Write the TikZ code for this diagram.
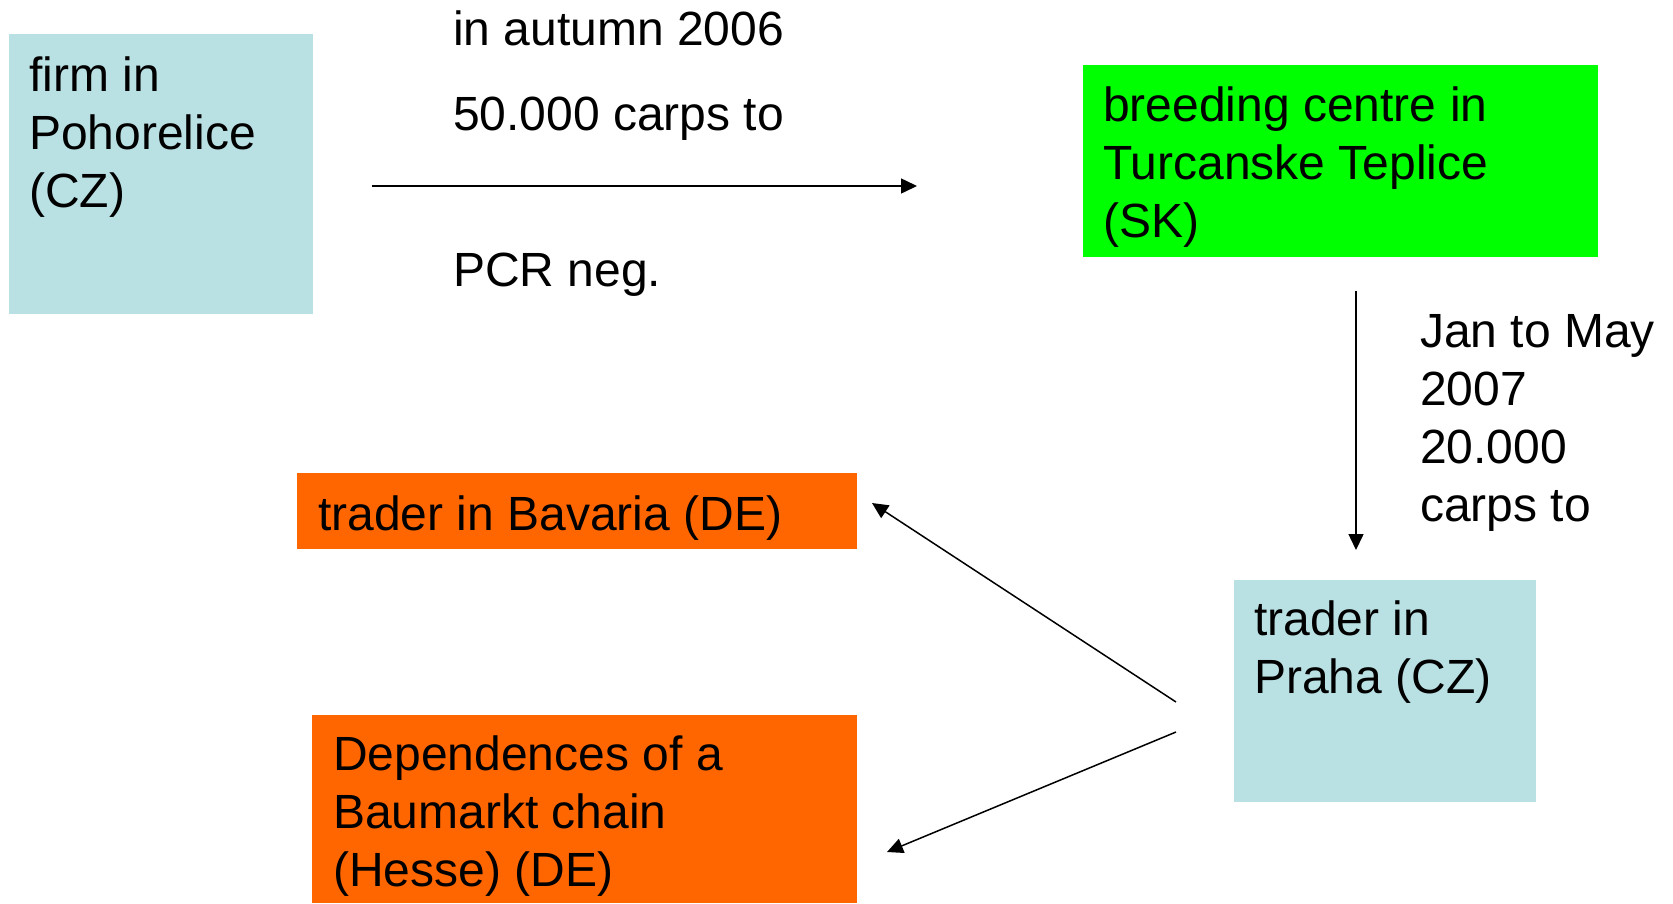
\documentclass[tikz,border=0pt]{standalone}
\usepackage{fontspec}
\setmainfont{Liberation Sans}
\usetikzlibrary{arrows.meta}
\definecolor{paleblue}{RGB}{185,224,227}
\definecolor{limegreen}{RGB}{0,255,0}
\definecolor{deeporange}{RGB}{255,102,0}
\begin{document}
\begin{tikzpicture}[x=1pt,y=-1pt,
  box/.style={anchor=north west,inner sep=0pt,outer sep=0pt},
  txt/.style={anchor=north west,inner sep=0pt,align=left,font=\fontsize{48}{58}\selectfont},
  flow/.style={-{Triangle[length=16pt,width=15pt]},line width=1.5pt}]
\useasboundingbox (0,0) rectangle (1673,903);
\node[box,fill=paleblue,minimum width=304pt,minimum height=280pt] (firm) at (9,34) {};
\node[box,fill=limegreen,minimum width=515pt,minimum height=192pt] (centre) at (1083,65) {};
\node[box,fill=paleblue,minimum width=302pt,minimum height=222pt] (praha) at (1234,580) {};
\node[box,fill=deeporange,minimum width=560pt,minimum height=76pt] (bavaria) at (297,473) {};
\node[box,fill=deeporange,minimum width=545pt,minimum height=188pt] (hesse) at (312,715) {};
\node[txt] (firmtxt) at (29,56.5) {firm in\\Pohorelice\\(CZ)};
\node[txt] (centretxt) at (1103,86.5) {breeding centre in\\Turcanske Teplice\\(SK)};
\node[txt] (prahatxt) at (1254,601) {trader in\\Praha (CZ)};
\node[txt] (bavariatxt) at (318,495.5) {trader in Bavaria (DE)};
\node[txt] (hessetxt) at (333,735.5) {Dependences of a\\Baumarkt chain\\(Hesse) (DE)};
\node[txt] (autumn) at (453,10.5) {in autumn 2006};
\node[txt] (carps) at (453,97) {50.000 carps to};
\node[txt] (pcr) at (453,253) {PCR neg.};
\node[txt] (janmay) at (1420,314) {Jan to May\\2007\\20.000\\carps to};
\coordinate (a1) at (372,186);
\coordinate (a2) at (917,186);
\coordinate (b1) at (1356,291);
\coordinate (b2) at (1356,550);
\coordinate (c1) at (1176,702);
\coordinate (c2) at (872,503);
\coordinate (d1) at (1176,732);
\coordinate (d2) at (887,852);
\draw[flow] (a1) -- (a2);
\draw[flow] (b1) -- (b2);
\draw[flow] (c1) -- (c2);
\draw[flow] (d1) -- (d2);
\end{tikzpicture}
\end{document}
